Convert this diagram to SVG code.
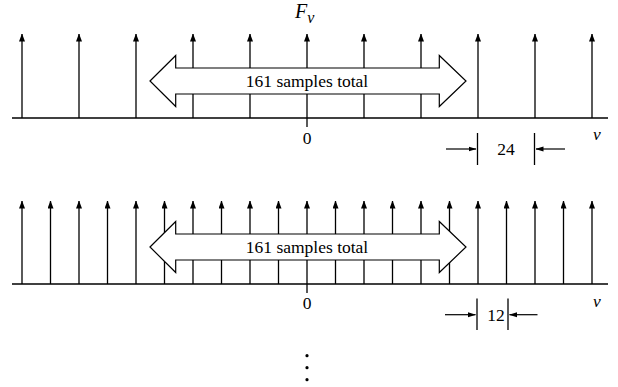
<svg xmlns="http://www.w3.org/2000/svg" width="618" height="387" viewBox="0 0 618 387">
<style>
.ln{stroke:#000;stroke-width:1.3;fill:none}
.stem{stroke:#000;stroke-width:1.3;marker-end:url(#ah)}
.big{fill:#fff;stroke:#000;stroke-width:1.2;stroke-linejoin:miter}
.t{font-family:'Liberation Serif','Times New Roman','DejaVu Serif',serif;font-size:17.5px;fill:#000}
.it{font-style:italic}
.dim{stroke:#000;stroke-width:1.2;marker-end:url(#dh)}
</style>
<defs>
<marker id="ah" markerUnits="userSpaceOnUse" markerWidth="8" markerHeight="6" refX="7.5" refY="3" orient="auto" viewBox="0 0 8 6">
<path d="M0,0 L8,3 L0,6 z" fill="#000"/>
</marker>
<marker id="dh" markerUnits="userSpaceOnUse" markerWidth="8" markerHeight="6" refX="7.5" refY="3" orient="auto" viewBox="0 0 8 6">
<path d="M0,0.5 L8,3 L0,5.5 z" fill="#000"/>
</marker>
</defs>

<g id="panel1">
<text class="t it" x="295" y="18" style="font-size:20px">F<tspan dy="5" style="font-size:16px">v</tspan></text>
<g id="stems1">
<line class="stem" x1="22" y1="118" x2="22" y2="34"/>
<line class="stem" x1="79" y1="118" x2="79" y2="34"/>
<line class="stem" x1="136" y1="118" x2="136" y2="34"/>
<line class="stem" x1="193" y1="118" x2="193" y2="34"/>
<line class="stem" x1="250" y1="118" x2="250" y2="34"/>
<line class="stem" x1="307" y1="118" x2="307" y2="34"/>
<line class="stem" x1="364" y1="118" x2="364" y2="34"/>
<line class="stem" x1="421" y1="118" x2="421" y2="34"/>
<line class="stem" x1="478" y1="118" x2="478" y2="34"/>
<line class="stem" x1="535" y1="118" x2="535" y2="34"/>
<line class="stem" x1="592" y1="118" x2="592" y2="34"/>
</g>
<line class="ln" x1="12" y1="118" x2="608" y2="118"/>
<line class="ln" x1="307" y1="118" x2="307" y2="127"/>
<text class="t" x="307" y="144" text-anchor="middle">0</text>
<text class="t it" x="597" y="140" text-anchor="middle">v</text>
<g id="span1">
<polygon class="big" points="150,81 175.7,55.5 175.7,68 439.3,68 439.3,55.5 466,81 439.3,106.5 439.3,94 175.7,94 175.7,106.5"/>
<text class="t" x="307" y="86.5" text-anchor="middle">161 samples total</text>
</g>
<g id="dim1">
<line class="ln" x1="477.5" y1="133" x2="477.5" y2="165"/>
<line class="ln" x1="534.5" y1="133" x2="534.5" y2="165"/>
<line class="dim" x1="446" y1="149" x2="476" y2="149"/>
<line class="dim" x1="565" y1="149" x2="536" y2="149"/>
<text class="t" x="506" y="155" text-anchor="middle">24</text>
</g>
</g>

<g id="panel2">
<g id="stems2">
<line class="stem" x1="22" y1="284" x2="22" y2="201"/>
<line class="stem" x1="50.5" y1="284" x2="50.5" y2="201"/>
<line class="stem" x1="79" y1="284" x2="79" y2="201"/>
<line class="stem" x1="107.5" y1="284" x2="107.5" y2="201"/>
<line class="stem" x1="136" y1="284" x2="136" y2="201"/>
<line class="stem" x1="164.5" y1="284" x2="164.5" y2="201"/>
<line class="stem" x1="193" y1="284" x2="193" y2="201"/>
<line class="stem" x1="221.5" y1="284" x2="221.5" y2="201"/>
<line class="stem" x1="250" y1="284" x2="250" y2="201"/>
<line class="stem" x1="278.5" y1="284" x2="278.5" y2="201"/>
<line class="stem" x1="307" y1="284" x2="307" y2="201"/>
<line class="stem" x1="335.5" y1="284" x2="335.5" y2="201"/>
<line class="stem" x1="364" y1="284" x2="364" y2="201"/>
<line class="stem" x1="392.5" y1="284" x2="392.5" y2="201"/>
<line class="stem" x1="421" y1="284" x2="421" y2="201"/>
<line class="stem" x1="449.5" y1="284" x2="449.5" y2="201"/>
<line class="stem" x1="478" y1="284" x2="478" y2="201"/>
<line class="stem" x1="506.5" y1="284" x2="506.5" y2="201"/>
<line class="stem" x1="535" y1="284" x2="535" y2="201"/>
<line class="stem" x1="563.5" y1="284" x2="563.5" y2="201"/>
<line class="stem" x1="592" y1="284" x2="592" y2="201"/>
</g>
<line class="ln" x1="12" y1="284" x2="608" y2="284"/>
<line class="ln" x1="307" y1="284" x2="307" y2="293"/>
<text class="t" x="307" y="309" text-anchor="middle">0</text>
<text class="t it" x="597" y="306.5" text-anchor="middle">v</text>
<g id="span2">
<polygon class="big" points="150,247 175.7,221.5 175.7,234 439.3,234 439.3,221.5 466,247 439.3,272.5 439.3,260 175.7,260 175.7,272.5"/>
<text class="t" x="307" y="252.5" text-anchor="middle">161 samples total</text>
</g>
<g id="dim2">
<line class="ln" x1="477" y1="298.5" x2="477" y2="330"/>
<line class="ln" x1="508" y1="298.5" x2="508" y2="330"/>
<line class="dim" x1="445" y1="314.7" x2="475.5" y2="314.7"/>
<line class="dim" x1="537.5" y1="314.7" x2="509.5" y2="314.7"/>
<text class="t" x="496" y="321" text-anchor="middle">12</text>
</g>
</g>

<g id="dots">
<circle cx="307" cy="355.7" r="1.6" fill="#000"/>
<circle cx="307" cy="367.7" r="1.6" fill="#000"/>
<circle cx="307" cy="379.7" r="1.6" fill="#000"/>
</g>
</svg>
